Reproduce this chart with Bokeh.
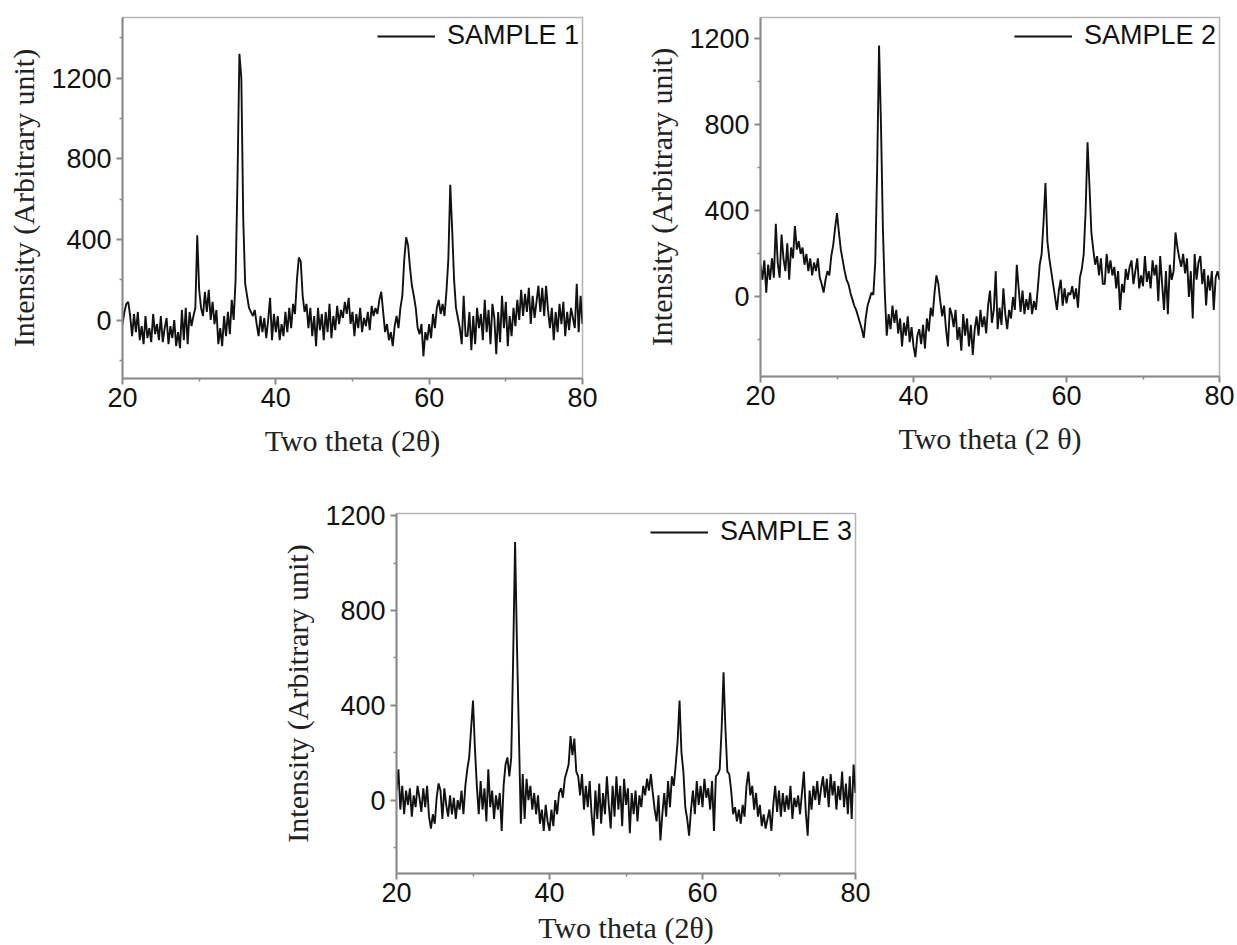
import numpy as np
from bokeh.plotting import figure
from bokeh.layouts import column, row
from bokeh.models import FixedTicker, Legend, LegendItem, Range1d
from bokeh.embed import file_html
from bokeh.resources import INLINE

# 2-theta scan angles (degrees), step 0.25
two_theta = [round(20 + 0.25 * i, 2) for i in range(241)]

sample1 = [
    -20, 40, 80, 90, 20, -80, 30, -60, 40, -100, -30, -120, 20, -90, -40, -110, 30, -70, -20, -100,
    20, -110, -40, 10, -120, -30, -90, 0, -130, -60, -140, 50, -100, 60, -120, 40, -30, 20, 60, 420,
    150, 60, 20, 140, 40, 150, 0, 90, -20, 50, -120, -40, -130, 20, -80, 40, -70, 100, 0, 200,
    700, 1320, 1200, 500, 180, 120, 60, 40, 20, 50, -20, -80, 20, -60, 10, -90, 0, 110, -100, 30,
    -60, 20, -100, -20, -80, 40, -60, 60, -40, 80, 30, 200, 310, 290, 120, 40, 80, -40, 60, -80,
    20, -130, 60, -50, 30, -100, 40, -60, 80, -90, 20, -50, 70, -20, 50, 10, 90, 30, 110, -20,
    40, -80, 30, -40, 60, -60, 10, -30, 40, -50, 70, 20, 60, 30, 100, 140, 40, -60, -20, -100,
    -60, -130, -30, 20, -40, 60, 120, 300, 410, 370, 260, 170, 120, 60, -40, -70, -20, -180, -60, -100,
    -20, -90, 30, -40, 60, 100, 30, 80, 20, 140, 300, 670, 450, 200, 60, 10, -40, -120, 120, -80,
    -80, 40, -150, 20, -120, 60, -40, 30, -100, 100, -60, 50, -120, 80, 10, -170, 40, -110, 120, -40,
    90, -130, 20, -80, 60, -30, 100, 0, 150, 20, 130, 40, 160, -20, 120, 10, 90, 170, 40, 160,
    20, 170, 50, -40, 60, -100, 40, -60, 80, -20, 90, -80, 40, -50, 60, 10, -40, 180, -60, 120,
    -20,
]

sample2 = [
    150, 80, 170, 20, 150, 80, 180, 90, 340, 160, 90, 290, 180, 120, 250, 80, 230, 180, 330, 220,
    260, 200, 230, 150, 200, 120, 180, 100, 160, 120, 180, 90, 60, 20, 80, 120, 100, 190, 240, 320,
    390, 300, 220, 170, 120, 80, 60, 20, -10, -40, -60, -90, -120, -150, -190, -100, -40, -10, 20, 10,
    160, 600, 1170, 800, 320, 20, -180, -80, -150, -40, -120, -60, -170, -100, -230, -120, -180, -90, -210, -140,
    -230, -280, -180, -150, -220, -130, -240, -100, -160, -50, -90, 20, 100, 60, -20, -90, -40, -150, -230, -50,
    -80, -140, -60, -200, -140, -250, -80, -180, -100, -230, -130, -270, -150, -90, -180, -60, -140, -90, -170, -40,
    30, -120, -60, 120, -150, -50, -130, 40, -80, -150, -60, -100, 0, -60, 150, 40, -70, 30, -80, -10,
    -60, 20, -80, -20, -60, 40, 150, 200, 350, 530, 260, 180, 120, 60, 0, -60, 30, 80, -40, 40,
    -30, 20, 10, 50, -10, 40, -50, 90, 130, 200, 400, 720, 520, 300, 220, 150, 190, 100, 180, 60,
    60, 200, 110, 170, 100, 140, 40, 120, -60, 60, 20, 130, 80, 140, 170, 60, 120, 180, 40, 100,
    50, 190, 70, 120, 40, 170, 100, 150, -20, 190, 60, -60, 120, -80, 150, 80, 120, 300, 230, 180,
    140, 200, 110, 180, 0, 120, -100, 200, 80, 160, 190, 60, 130, -40, 100, 30, 120, -60, 90, 120,
    80,
]

sample3 = [
    40, 130, -40, 60, -60, 40, -20, 50, -70, 20, -30, 60, 10, -50, 50, -30, 60, -70, -120, -60,
    -100, 10, 70, 40, -80, 50, -20, -70, 20, -60, 10, -80, 0, -40, 40, -60, 60, 130, 180, 300,
    420, 220, 60, -60, 80, -40, 50, -90, 130, -30, 40, -80, 20, -40, 30, -130, 60, 150, 180, 100,
    180, 600, 1090, 650, 280, -100, 110, -80, 90, 0, 60, -40, 30, -60, 20, -100, -40, -130, -20, -90,
    -130, -40, -110, 0, -60, 30, 50, 10, 90, 120, 150, 270, 190, 260, 120, 100, 20, 110, -40, 60,
    -30, 80, -60, -150, 40, -80, 70, -100, 30, -60, 100, -20, -120, 60, -70, 100, -40, 60, -110, 90,
    -20, 50, -140, 30, -60, 40, -90, 20, -30, 60, 20, 90, 40, 110, 30, -40, -90, 20, -170, -60,
    30, -70, 80, -30, 100, 60, 150, 250, 420, 200, 120, -30, -80, -150, -40, 40, -60, 80, -20, 60,
    -30, 90, 10, 50, -40, 80, -130, 100, 110, 130, 300, 540, 300, 120, 110, 40, -60, -30, -90, -40,
    -100, -20, -70, 60, 120, 20, 60, -40, 30, -70, -20, -110, -60, -120, -80, -40, -130, -20, 60, -50,
    40, -70, 30, -50, 20, -40, 60, -80, 10, -30, 20, -60, 30, 120, -50, -150, 40, -40, 60, 0,
    80, -20, 50, 100, 10, 90, -30, 110, 20, 80, -40, 60, 0, 120, -30, 70, -60, 100, -80, 150,
    30,
]

labels = ["SAMPLE 1", "SAMPLE 2", "SAMPLE 3"]
x_titles = ["Two theta (2\u03b8)", "Two theta (2 \u03b8)", "Two theta (2\u03b8)"]
y_title = "Intensity (Arbitrary unit)"
y_ranges = [(-290, 1500), (-370, 1300), (-310, 1210)]

AX = "#8a8a8a"


def make_panel(y, label, xtitle, yr, fw, fh, bl, br, bt, bb, lab_standoff):
    p = figure(frame_width=fw, frame_height=fh, min_border_left=bl, min_border_right=br,
               min_border_top=bt, min_border_bottom=bb,
               x_range=Range1d(20, 80), y_range=Range1d(*yr),
               output_backend="svg", toolbar_location=None)
    r = p.line(two_theta, y, line_color="#111111", line_width=1.9)
    p.xgrid.visible = False
    p.ygrid.visible = False
    p.outline_line_color = "#b5b5b5"
    p.outline_line_width = 1.5
    p.xaxis.ticker = FixedTicker(ticks=[20, 40, 60, 80], minor_ticks=[30, 50, 70])
    p.yaxis.ticker = FixedTicker(ticks=[0, 400, 800, 1200], minor_ticks=[-200, 200, 600, 1000, 1400])
    for ax in (p.xaxis, p.yaxis):
        ax.axis_line_color = AX
        ax.axis_line_width = 2
        ax.major_tick_line_color = AX
        ax.major_tick_line_width = 2
        ax.minor_tick_line_color = AX
        ax.minor_tick_line_width = 1.5
        ax.major_tick_in = 0
        ax.major_tick_out = 6
        ax.minor_tick_in = 0
        ax.minor_tick_out = 3
        ax.major_label_text_font = "Liberation Sans"
        ax.major_label_text_font_size = "27px"
        ax.major_label_text_color = "#111111"
        ax.axis_label_text_font = "Liberation Serif"
        ax.axis_label_text_font_size = "30px"
        ax.axis_label_text_font_style = "normal"
        ax.axis_label_text_color = "#222222"
    p.xaxis.axis_label = xtitle
    p.yaxis.axis_label = y_title
    p.xaxis.major_label_standoff = 3
    p.yaxis.major_label_standoff = 5
    p.xaxis.axis_label_standoff = lab_standoff
    p.yaxis.axis_label_standoff = 8
    leg = Legend(items=[LegendItem(label=label, renderers=[r])], location="top_right",
                 glyph_width=58, glyph_height=20, label_standoff=12,
                 label_text_font="Liberation Sans", label_text_font_size="27px",
                 label_text_color="#111111", padding=0, margin=3, spacing=0,
                 border_line_alpha=0, background_fill_alpha=0)
    p.add_layout(leg)
    return p


p1 = make_panel(sample1, labels[0], x_titles[0], y_ranges[0], 460, 361, 122, 20, 15, 89, 14)
p2 = make_panel(sample2, labels[1], x_titles[1], y_ranges[1], 459, 359, 158, 18, 17, 89, 14)
p3 = make_panel(sample3, labels[2], x_titles[2], y_ranges[2], 459, 360, 396, 20, 48, 72, 6)

layout = column(row(p1, p2), row(p3))
open("out.html", "w").write(file_html(layout, INLINE))
